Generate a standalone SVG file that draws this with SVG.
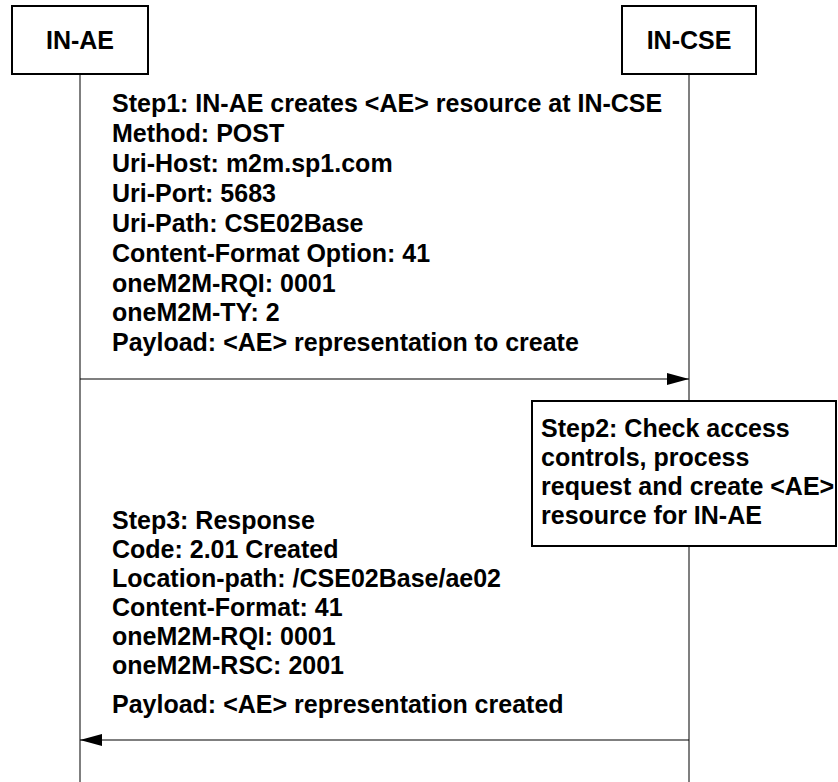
<svg xmlns="http://www.w3.org/2000/svg" width="838" height="782" viewBox="0 0 838 782">
  <style>
    .box { fill: #ffffff; stroke: #000000; stroke-width: 2; }
    .life { stroke: #555555; stroke-width: 1.5; fill: none; }
    .msg { stroke: #000000; stroke-width: 1.2; fill: none; }
    .t { font-family: "Liberation Sans", Arial, sans-serif; font-weight: bold; font-size: 25px; fill: #000000; }
    .h { font-family: "Liberation Sans", Arial, sans-serif; font-weight: bold; font-size: 25px; fill: #000000; text-anchor: middle; }
  </style>
  <defs>
    <marker id="arrow" markerWidth="22" markerHeight="12" refX="22" refY="6" orient="auto" markerUnits="userSpaceOnUse">
      <path d="M0,0 L22,6 L0,12 Z" fill="#000000"/>
    </marker>
  </defs>
  <rect width="838" height="782" fill="#ffffff"/>
  <g id="lifelines">
    <line class="life" x1="80" y1="74" x2="80" y2="782"/>
    <line class="life" x1="689" y1="74" x2="689" y2="782"/>
  </g>
  <g id="node-in-ae">
    <rect class="box" x="12" y="6" width="136" height="68"/>
    <text class="h" x="80" y="49">IN-AE</text>
  </g>
  <g id="node-in-cse">
    <rect class="box" x="622" y="6" width="134" height="68"/>
    <text class="h" x="689" y="49">IN-CSE</text>
  </g>
  <g id="connectors">
    <line class="msg" x1="80" y1="379" x2="689" y2="379" marker-end="url(#arrow)"/>
    <line class="msg" x1="689" y1="740" x2="80" y2="740" marker-end="url(#arrow)"/>
  </g>
  <g id="step1-label">
    <text class="t" x="112" y="112">Step1: IN-AE creates &lt;AE&gt; resource at IN-CSE</text>
    <text class="t" x="112" y="142">Method: POST</text>
    <text class="t" x="112" y="172">Uri-Host: m2m.sp1.com</text>
    <text class="t" x="112" y="202">Uri-Port: 5683</text>
    <text class="t" x="112" y="232">Uri-Path: CSE02Base</text>
    <text class="t" x="112" y="262">Content-Format Option: 41</text>
    <text class="t" x="112" y="292">oneM2M-RQI: 0001</text>
    <text class="t" x="112" y="321">oneM2M-TY: 2</text>
    <text class="t" x="112" y="351">Payload: &lt;AE&gt; representation to create</text>
  </g>
  <g id="step2">
    <rect class="box" x="532" y="401" width="304" height="145"/>
    <text class="t" x="541" y="437">Step2: Check access</text>
    <text class="t" x="541" y="466">controls, process</text>
    <text class="t" x="541" y="495">request and create &lt;AE&gt;</text>
    <text class="t" x="541" y="524">resource for IN-AE</text>
  </g>
  <g id="step3-label">
    <text class="t" x="112" y="529">Step3: Response</text>
    <text class="t" x="112" y="558">Code: 2.01 Created</text>
    <text class="t" x="112" y="587">Location-path: /CSE02Base/ae02</text>
    <text class="t" x="112" y="616">Content-Format: 41</text>
    <text class="t" x="112" y="645">oneM2M-RQI: 0001</text>
    <text class="t" x="112" y="674">oneM2M-RSC: 2001</text>
    <text class="t" x="112" y="713">Payload: &lt;AE&gt; representation created</text>
  </g>
</svg>
